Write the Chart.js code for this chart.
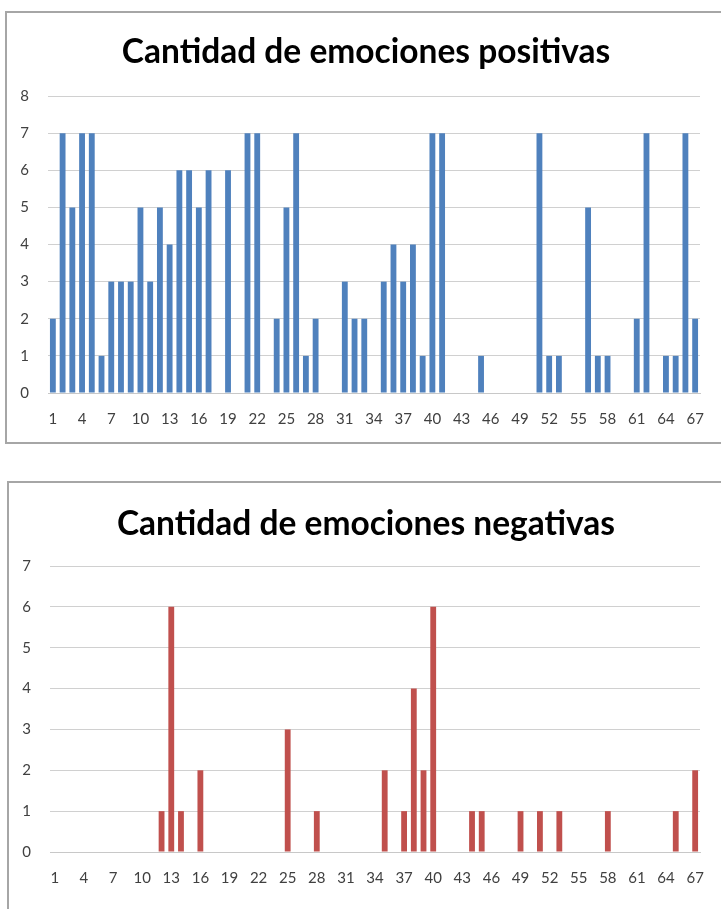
<!DOCTYPE html>
<html>
<head>
<meta charset="utf-8">
<script src="https://cdn.jsdelivr.net/npm/chart.js@4.4.0/dist/chart.umd.min.js"></script>
<style>
  html, body { margin: 0; padding: 0; background: #fff; overflow: hidden; width: 721px; height: 909px; }
  .box { position: absolute; border: 2px solid #a6a6a6; box-sizing: border-box; }
  .wrap { position: absolute; left: 0; width: 721px; }
  canvas { display: block; }
</style>
</head>
<body>
<div class="box" style="left:5px; top:11px; width:740px; height:433px;"></div>
<div class="box" style="left:7px; top:481px; width:740px; height:460px;"></div>
<div class="wrap" style="top:0px; height:450px;"><canvas id="c1"></canvas></div>
<div class="wrap" style="top:470px; height:439px;"><canvas id="c2"></canvas></div>
<script>
const categories = ["1","2","3","4","5","6","7","8","9","10","11","12","13","14","15","16","17","18","19","20",
  "21","22","23","24","25","26","27","28","29","30","31","32","33","34","35","36","37","38","39","40",
  "41","42","43","44","45","46","47","48","49","50","51","52","53","54","55","56","57","58","59","60",
  "61","62","63","64","65","66","67"];

const tickLabels = ["1","4","7","10","13","16","19","22","25","28","31","34","37","40","43","46","49","52","55","58","61","64","67"];

const positiveValues = [2,7,5,7,7,1,3,3,3,5, 3,5,4,6,6,5,6,0,6,0,
  7,7,0,2,5,7,1,2,0,0, 3,2,2,0,3,4,3,4,1,7,
  7,0,0,0,1,0,0,0,0,0, 7,1,1,0,0,5,1,1,0,0,
  2,7,0,1,1,7,2];

const negativeValues = [0,0,0,0,0,0,0,0,0,0, 0,1,6,1,0,2,0,0,0,0,
  0,0,0,0,3,0,0,1,0,0, 0,0,0,0,2,0,1,4,2,6,
  0,0,0,1,1,0,0,0,1,0, 1,0,1,0,0,0,0,1,0,0,
  0,0,0,0,1,0,2];

const titles = ["Cantidad de emociones positivas", "Cantidad de emociones negativas"];
const colors = ["#4f81bd", "#c0504d"];

const FONT = "Lato, 'Open Sans', sans-serif";

// shifts the title block so it is centred where the reference centres it
const titleShift = {
  id: 'titleShift',
  afterLayout(chart, args, opts) {
    const t = chart.titleBlock;
    if (t) { t.left += opts.shift; }
  }
};

function makeChart(id, title, values, color, yMax, areaLeft, areaRight, titleTop) {
  const ctx = document.getElementById(id);
  const W = 721;
  const tSize = 33.5, tLine = 1.2;
  const titleCenter = 366;
  const padR = W - areaRight;
  return new Chart(ctx, {
    type: 'bar',
    data: {
      labels: categories,
      datasets: [{
        data: values,
        backgroundColor: color,
        borderWidth: 0,
        barPercentage: 0.6,
        categoryPercentage: 1.0
      }]
    },
    plugins: [titleShift],
    options: {
      responsive: true,
      maintainAspectRatio: false,
      animation: false,
      layout: { padding: { top: 0, left: 0, right: padR, bottom: 0 } },
      plugins: {
        legend: { display: false },
        tooltip: { enabled: false },
        titleShift: { shift: 2 * titleCenter - areaRight },
        title: {
          display: true,
          text: title,
          color: '#000',
          font: { family: FONT, size: tSize, weight: 'bold', lineHeight: tLine },
          padding: { top: titleTop, bottom: 96 - titleTop - tSize * tLine }
        }
      },
      scales: {
        x: {
          grid: { display: false, drawTicks: false },
          border: { display: true, color: '#c8c8c8', width: 1 },
          ticks: {
            autoSkip: false,
            maxRotation: 0,
            minRotation: 0,
            padding: 17,
            color: '#404040',
            font: { family: FONT, size: 15 },
            callback: function(v, i) {
              const l = categories[i];
              return tickLabels.includes(l) ? l : '';
            }
          },
          afterFit: function(s) { s.height = 57; }
        },
        y: {
          min: 0,
          max: yMax,
          grid: { color: '#d0d0d0', lineWidth: 1, drawTicks: false },
          border: { display: false },
          ticks: {
            stepSize: 1,
            padding: 19,
            color: '#404040',
            font: { family: FONT, size: 15 }
          },
          afterFit: function(s) { s.width = areaLeft; }
        }
      }
    }
  });
}

makeChart('c1', titles[0], positiveValues, colors[0], 8, 48, 700, 32);
makeChart('c2', titles[1], negativeValues, colors[1], 7, 50, 702, 34);
</script>
</body>
</html>
